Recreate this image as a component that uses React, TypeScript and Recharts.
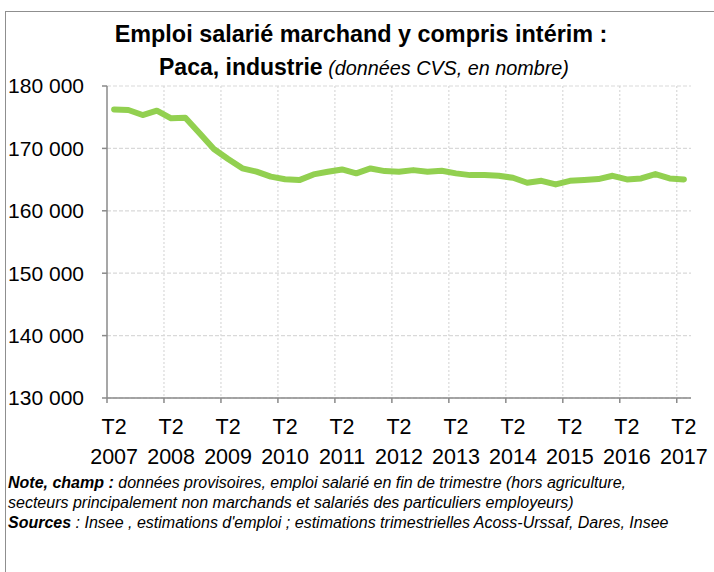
import React from 'react';
import { LineChart, Line, XAxis, YAxis, CartesianGrid } from 'recharts';

const quarters = [
  'T2 2007', 'T3 2007', 'T4 2007', 'T1 2008',
  'T2 2008', 'T3 2008', 'T4 2008', 'T1 2009',
  'T2 2009', 'T3 2009', 'T4 2009', 'T1 2010',
  'T2 2010', 'T3 2010', 'T4 2010', 'T1 2011',
  'T2 2011', 'T3 2011', 'T4 2011', 'T1 2012',
  'T2 2012', 'T3 2012', 'T4 2012', 'T1 2013',
  'T2 2013', 'T3 2013', 'T4 2013', 'T1 2014',
  'T2 2014', 'T3 2014', 'T4 2014', 'T1 2015',
  'T2 2015', 'T3 2015', 'T4 2015', 'T1 2016',
  'T2 2016', 'T3 2016', 'T4 2016', 'T1 2017',
  'T2 2017',
];

const emploi = [
  176250, 176150, 175350, 176040,
  174820, 174920, 172420, 169900,
  168300, 166810, 166270, 165470,
  165050, 164920, 165830, 166250,
  166630, 166000, 166790, 166360,
  166250, 166520, 166250, 166410,
  166000, 165720, 165720, 165610,
  165290, 164490, 164810, 164230,
  164810, 164920, 165080, 165610,
  165030, 165190, 165880, 165190,
  165030,
];

const yTicks = [130000, 140000, 150000, 160000, 170000, 180000];

const data = quarters.map((q, i) => ({ q, v: emploi[i] }));

const W = 714;
const H = 572;
const X_H = 30;
const MARGIN = { top: 86, right: 23, bottom: 174 - X_H, left: 0 };
const Y_W = 107;
const PLOT_W = W - MARGIN.left - MARGIN.right - Y_W;
const HALF = PLOT_W / quarters.length / 2;
const FONT = '"Liberation Sans", Arial, sans-serif';
const AXIS = '#8a8a8a';

const fmt = (v: number) => String(v).replace(/\B(?=(\d{3})+(?!\d))/g, ' ');

const XTick = (props: any) => {
  const { x, y, payload } = props;
  const parts = String(payload.value).split(' ');
  return (
    <g>
      <line x1={x - HALF} x2={x - HALF} y1={y - 5} y2={y} stroke={AXIS} strokeWidth={1.5} />
      <text x={x} y={y + 31} textAnchor="middle" fontFamily={FONT} fontSize={21.5} fill="#000">
        {parts[0]}
      </text>
      <text x={x} y={y + 61} textAnchor="middle" fontFamily={FONT} fontSize={21.5} fill="#000">
        {parts[1]}
      </text>
    </g>
  );
};

const vGen = (args: any) => {
  const off = args && args.offset ? args.offset : { left: Y_W, width: PLOT_W };
  const step = off.width / quarters.length;
  const out: number[] = [];
  for (let k = 4; k < quarters.length; k += 4) out.push(off.left + k * step);
  return out;
};

export default function App() {
  return (
    <div style={{ position: 'absolute', left: 0, top: 0, width: W, height: H, overflow: 'hidden', background: '#fff' }}>
      <div
        style={{
          position: 'absolute', left: 5, top: 11, width: 800, height: 800,
          borderLeft: '1.5px solid #8f8f8f', borderTop: '1.5px solid #8f8f8f',
        }}
      />
      <div
        style={{
          position: 'absolute', left: 0, top: 19, width: 722, textAlign: 'center',
          fontFamily: FONT, fontSize: 23.4, fontWeight: 'bold', color: '#000', lineHeight: '30px',
        }}
      >
        Emploi salarié marchand y compris intérim :
      </div>
      <div
        style={{
          position: 'absolute', left: 0, top: 52, width: 728, textAlign: 'center',
          fontFamily: FONT, fontSize: 23, color: '#000', lineHeight: '30px',
        }}
      >
        <span style={{ fontWeight: 'bold' }}>Paca, industrie</span>
        <span style={{ fontStyle: 'italic', fontSize: 19.8 }}> (données CVS, en nombre)</span>
      </div>
      <div style={{ position: 'absolute', left: 0, top: 0 }}>
        <LineChart width={W} height={H} data={data} margin={MARGIN}>
          <CartesianGrid vertical={false} stroke="#d9d9d9" strokeDasharray="4 2" strokeWidth={1.2} />
          <CartesianGrid horizontal={false} stroke="#d9d9d9" strokeDasharray="2 2" strokeWidth={1.2} verticalCoordinatesGenerator={vGen} />
          <XAxis
            dataKey="q"
            height={X_H}
            interval={3}
            padding={{ left: HALF, right: HALF }}
            stroke={AXIS}
            strokeWidth={1.5}
            tickLine={false}
            tickSize={5}
            tickMargin={0}
            tick={<XTick />}
          />
          <YAxis
            width={Y_W}
            domain={[130000, 180000]}
            ticks={yTicks}
            tickFormatter={fmt}
            stroke={AXIS}
            strokeWidth={1.5}
            tickSize={5}
            tickMargin={18}
            tick={{ fill: '#000', fontSize: 21, fontFamily: FONT }}
          />
          <Line
            type="linear"
            dataKey="v"
            stroke="#92d050"
            strokeWidth={6}
            strokeLinecap="round"
            strokeLinejoin="round"
            dot={false}
            isAnimationActive={false}
          />
        </LineChart>
      </div>
      <div
        style={{
          position: 'absolute', left: 8, top: 473, width: 706,
          fontFamily: FONT, fontSize: 16, fontStyle: 'italic', color: '#000', lineHeight: '20px',
        }}
      >
        <div style={{ whiteSpace: 'nowrap' }}>
          <b>Note, champ :</b> données provisoires, emploi salarié en fin de trimestre (hors agriculture,
        </div>
        <div style={{ whiteSpace: 'nowrap' }}>secteurs principalement non marchands et salariés des particuliers employeurs)</div>
        <div style={{ whiteSpace: 'nowrap' }}>
          <b>Sources</b> : Insee , estimations d'emploi ; estimations trimestrielles Acoss-Urssaf, Dares, Insee
        </div>
      </div>
    </div>
  );
}
